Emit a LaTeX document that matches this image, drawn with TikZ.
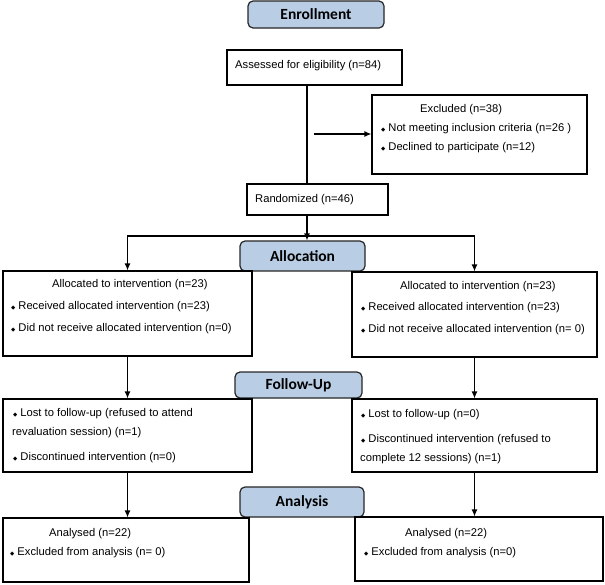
\documentclass[tikz,border=0pt]{standalone}
\usepackage{fontspec}
\setmainfont{Liberation Sans}
\newfontfamily\headfont{Carlito}
\newfontfamily\symfont{DejaVu Sans}
\usepackage{tikz}
\usetikzlibrary{
	positioning		% relative placement
	, arrows.meta		% Latex style arrow tips
	, calc
}
\definecolor{headblue}{RGB}{185,205,229}
\newcommand{\dmd}{\raisebox{0.8pt}{\symfont\fontsize{5.5}{5.5}\selectfont ◆}\kern 3pt}

\begin{document}
\begin{tikzpicture}[
		x=1pt, y=-1pt
		, header/.style 2 args={draw=black!85, fill=headblue, rounded corners=5pt, line width=1.2pt, inner sep=0pt, minimum width=#1pt, minimum height=#2pt, font=\headfont\bfseries\fontsize{15.5}{16}\selectfont}
		, box/.style 2 args={draw, line width=1.2pt, inner sep=0pt, minimum width=#1pt, minimum height=#2pt}
		, txt/.style={anchor=west, inner sep=0pt, font=\fontsize{11.2}{12}\selectfont}
		, flow/.style={-{Latex[length=7pt,width=6pt]}, line width=1.2pt}
		, link/.style={line width=1.2pt}
	]
	\useasboundingbox (0,0) rectangle (605,584);

	% Draw the phase headers
	\node[header={136}{27}] (enrollment) at (316,14.5) {Enrollment};
	\node[header={125}{30}] (allocation) at (302.5,256) {Allocation};
	\node[header={127}{26}] (followup) at (298.5,385) {Follow-Up};
	\node[header={124}{30}] (analysis) at (302,502) {Analysis};

	% Draw the boxes
	\node[box={175}{35}] (assessed) at (314.5,67.5) {};
	\node[box={215}{79}] (excluded) at (479.5,134.5) {};
	\node[box={141}{31}] (randomized) at (317.5,199.5) {};
	\node[box={249}{85}] (allocleft) at (127.5,313.5) {};
	\node[box={245}{85}] (allocright) at (474.5,314.5) {};
	\node[box={249}{73}] (followleft) at (127.5,435.5) {};
	\node[box={245}{73}] (followright) at (474.5,435.5) {};
	\node[box={246}{64}] (analysedleft) at (126,550) {};
	\node[box={248}{64}] (analysedright) at (479,549) {};

	% Write the texts into the boxes
	\node[txt] (assessedtxt) at (235,66) {Assessed for eligibility (n=84)};
	\node[txt] (excludedtxt) at (420,110) {Excluded (n=38)};
	\node[txt] (excludedone) at (381,129) {\dmd Not meeting inclusion criteria (n=26 )};
	\node[txt] (excludedtwo) at (381,148) {\dmd Declined to participate (n=12)};
	\node[txt] (randomizedtxt) at (255,200) {Randomized (n=46)};
	\node[txt] (allocleftone) at (52,285) {Allocated to intervention (n=23)};
	\node[txt] (alloclefttwo) at (11,307) {\dmd Received allocated intervention (n=23)};
	\node[txt] (allocleftthree) at (11,329) {\dmd Did not receive allocated intervention (n=0)};
	\node[txt] (allocrightone) at (400,287) {Allocated to intervention (n=23)};
	\node[txt] (allocrighttwo) at (361,308) {\dmd Received allocated intervention (n=23)};
	\node[txt] (allocrightthree) at (361,330) {\dmd Did not receive allocated intervention (n= 0)};
	\node[txt] (followleftone) at (13,414) {\dmd Lost to follow-up (refused to attend};
	\node[txt] (followlefttwo) at (12,433) {revaluation session) (n=1)};
	\node[txt] (followleftthree) at (13,458) {\dmd Discontinued intervention (n=0)};
	\node[txt] (followrightone) at (361,415) {\dmd Lost to follow-up (n=0)};
	\node[txt] (followrighttwo) at (361,440) {\dmd Discontinued intervention (refused to};
	\node[txt] (followrightthree) at (360,459) {complete 12 sessions) (n=1)};
	\node[txt] (analysedleftone) at (49,534) {Analysed (n=22)};
	\node[txt] (analysedlefttwo) at (10,553) {\dmd Excluded from analysis (n= 0)};
	\node[txt] (analysedrightone) at (405,534) {Analysed (n=22)};
	\node[txt] (analysedrighttwo) at (364,553) {\dmd Excluded from analysis (n=0)};

	% Draw the connectors
	\coordinate (spine) at (307,0);
	\coordinate (exit) at (314,134);
	\coordinate (split) at (307,236);
	\draw[link] (assessed.south -| spine) -- (randomized.north -| spine);
	\draw[flow] (exit) -- (exit -| excluded.west);
	\draw[flow] (randomized.south -| spine) -- (allocation.north -| spine);
	\draw[flow] (split) -| (allocleft.north);
	\draw[flow] (split) -| (allocright.north);
	\foreach \side in {left,right} {
		\draw[flow] (alloc\side) -- (follow\side);
		\draw[flow] (follow\side.south) -- (follow\side.south |- analysed\side.north);
	};
\end{tikzpicture}
\end{document}
